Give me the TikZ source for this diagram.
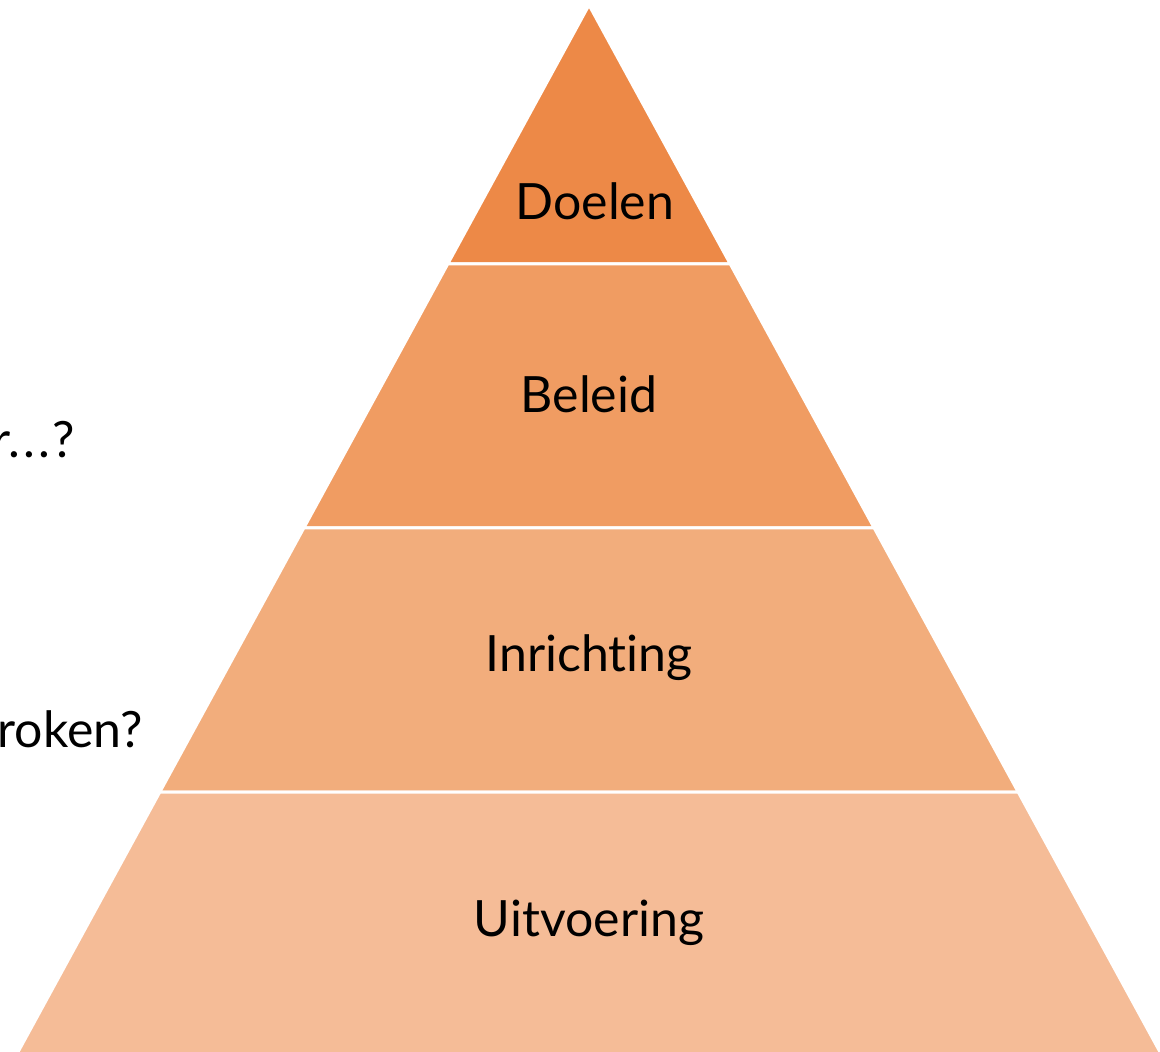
\documentclass[tikz,border=0pt]{standalone}
\usepackage{fontspec}
\setmainfont{Lato}[Ligatures=NoCommon]
\usepackage{tikz}
\usetikzlibrary{positioning}
\definecolor{layerone}{RGB}{237,137,71}
\definecolor{layertwo}{RGB}{240,156,98}
\definecolor{layerthree}{RGB}{242,173,124}
\definecolor{layerfour}{RGB}{245,188,151}

\begin{document}
\begin{tikzpicture}[
    x=0.5pt, y=-0.5pt,
    layer/.style={draw=white, line width=1.5pt, line join=miter},
    lbl/.style={font=\fontsize{25}{29}\selectfont, text=black, inner sep=0pt},
    side/.style={font=\fontsize{25}{29}\selectfont, text=black, inner sep=0pt, anchor=east}
]
\useasboundingbox (0,0) rectangle (1160,1052);

% Layers of the pyramid
\filldraw[layer, fill=layerone] (589,5) -- (730.3,264) -- (447.7,264) -- cycle;
\filldraw[layer, fill=layertwo] (447.7,264) -- (730.3,264) -- (874.2,528) -- (303.8,528) -- cycle;
\filldraw[layer, fill=layerthree] (303.8,528) -- (874.2,528) -- (1018.2,792) -- (159.8,792) -- cycle;
\filldraw[layer, fill=layerfour] (159.8,792) -- (1018.2,792) -- (1162.2,1056) -- (15.8,1056) -- cycle;

% Labels
\node[lbl] (doelen) at (595,201) {Doelen};
\node[lbl] (beleid) at (589,394) {Beleid};
\node[lbl] (inrichting) at (589,658) {Inrichting};
\node[lbl] (uitvoering) at (589,923) {Uitvoering};

% Cut-off questions on the left
\node[side] (vraageen) at (75,440) {r.\kern1.5pt.\kern1.5pt.\kern1pt?};
\node[side] (vraagtwee) at (143,729) {roken?};
\end{tikzpicture}
\end{document}
